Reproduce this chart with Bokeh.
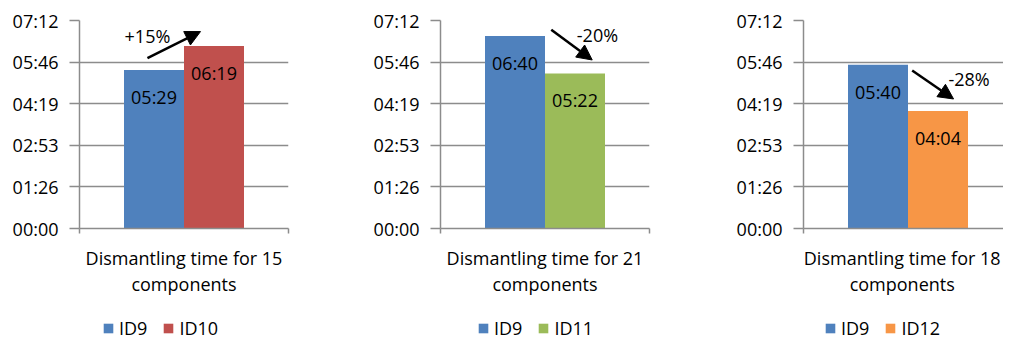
from bokeh.plotting import figure
from bokeh.models import (Range1d, FixedTicker, LinearAxis, Legend, LegendItem,
                          Arrow, NormalHead, Label, ColumnDataSource)
from bokeh.layouts import row, column
from bokeh.core.properties import value
from bokeh.embed import file_html
from bokeh.resources import INLINE

# ---------------- data ----------------
categories = ["Dismantling time for 15\ncomponents",
              "Dismantling time for 21\ncomponents",
              "Dismantling time for 18\ncomponents"]
series_a_names = ["ID9", "ID9", "ID9"]
series_b_names = ["ID10", "ID11", "ID12"]
series_a_seconds = [329, 400, 340]   # 05:29, 06:40, 05:40
series_b_seconds = [379, 322, 244]   # 06:19, 05:22, 04:04
change_labels = ["+15%", "-20%", "-28%"]
y_tick_values = [0, 86.4, 172.8, 259.2, 345.6, 432]
y_tick_labels = ["00:00", "01:26", "02:53", "04:19", "05:46", "07:12"]

# annotation placement (x in category units, y in seconds)
arrow_from = [(-0.175, 354), (0.03, 413), (0.02, 328)]
arrow_to = [(0.079, 409), (0.226, 350), (0.218, 269)]
change_label_pos = [(-0.175, 399), (0.251, 401), (0.292, 310)]

# ---------------- style ----------------
COLOR_A = "#4F81BD"
COLORS_B = ["#C0504D", "#9BBB59", "#F79646"]
GRAY = "#8C8C8C"
FONT = "Open Sans"
FS = "18px"
BAR_W = 60 / 209
frame_widths = [209, 209, 200]
left_borders = [79, 71, 71]
right_borders = [81, 83, 0]
legend_left = [23, 37, 21]


def mmss(s):
    return f"{int(s) // 60:02d}:{int(s) % 60:02d}"


figs = []
legend_figs = []
for i in range(3):
    fw = frame_widths[i]
    p = figure(frame_width=fw, frame_height=208,
               min_border_left=left_borders[i], min_border_right=right_borders[i],
               min_border_top=20, min_border_bottom=75,
               x_range=Range1d(-0.5, -0.5 + fw / 209), y_range=Range1d(0, 432),
               x_axis_type=None, output_backend="svg", toolbar_location=None,
               background_fill_color="white", border_fill_color="white")
    p.outline_line_color = None
    p.xgrid.visible = False

    # y axis
    yax = p.yaxis[0]
    yax.ticker = FixedTicker(ticks=y_tick_values)
    yax.major_label_overrides = {v: l for v, l in zip(y_tick_values, y_tick_labels)}
    yax.axis_line_color = GRAY
    yax.axis_line_width = 1.5
    yax.major_tick_line_color = GRAY
    yax.major_tick_line_width = 1.5
    yax.major_tick_out = 10
    yax.major_tick_in = 0
    yax.minor_tick_line_color = None
    yax.major_label_standoff = 11
    yax.major_label_text_font = FONT
    yax.major_label_text_font_size = FS
    yax.major_label_text_color = "black"
    p.ygrid.grid_line_color = GRAY
    p.ygrid.grid_line_width = 1.5

    # x axes: one for boundary ticks, one for category label
    tick_axis = LinearAxis(ticker=FixedTicker(ticks=[-0.5, 0.5]),
                           major_label_overrides={-0.5: "", 0.5: ""},
                           major_label_text_font_size="1px",
                           major_label_standoff=0,
                           major_tick_out=5, major_tick_in=0,
                           major_tick_line_color=GRAY, major_tick_line_width=1.5,
                           minor_tick_line_color=None,
                           axis_line_color=GRAY, axis_line_width=1.5)
    p.add_layout(tick_axis, "below")
    label_axis = LinearAxis(ticker=FixedTicker(ticks=[0]),
                            major_label_overrides={0: categories[i]},
                            major_label_standoff=6,
                            major_tick_line_color=None, minor_tick_line_color=None,
                            axis_line_color=None,
                            major_label_text_font=FONT, major_label_text_font_size=FS,
                            major_label_text_color="black",
                            major_label_text_line_height=1.1)
    p.add_layout(label_axis, "below")

    src = ColumnDataSource(dict(
        xa=[-BAR_W / 2], xb=[BAR_W / 2],
        a=[series_a_seconds[i]], b=[series_b_seconds[i]],
        la=[mmss(series_a_seconds[i])], lb=[mmss(series_b_seconds[i])]))
    p.vbar(x="xa", top="a", width=BAR_W, source=src,
           fill_color=COLOR_A, line_color=None)
    p.vbar(x="xb", top="b", width=BAR_W, source=src,
           fill_color=COLORS_B[i], line_color=None)
    for xcol, ycol, tcol in (("xa", "a", "la"), ("xb", "b", "lb")):
        p.text(x=xcol, y=ycol, text=tcol, source=src, y_offset=27,
               text_align="center", text_baseline="middle",
               text_font=value(FONT), text_font_size=FS, text_color="black")

    p.add_layout(Arrow(end=NormalHead(size=15, fill_color="black", line_color="black"),
                       x_start=arrow_from[i][0], y_start=arrow_from[i][1],
                       x_end=arrow_to[i][0], y_end=arrow_to[i][1],
                       line_width=2.5, line_color="black"))
    p.add_layout(Label(x=change_label_pos[i][0], y=change_label_pos[i][1],
                       text=change_labels[i], text_align="center",
                       text_baseline="middle", text_font=FONT,
                       text_font_size=FS, text_color="black"))
    figs.append(p)

    # legend strip below each panel (zero-height swatch renderers for the legend)
    lp = figure(frame_width=fw, frame_height=37,
                min_border_left=left_borders[i], min_border_right=right_borders[i],
                min_border_top=0, min_border_bottom=0,
                x_range=Range1d(0, 1), y_range=Range1d(0, 1),
                x_axis_type=None, y_axis_type=None,
                output_backend="svg", toolbar_location=None,
                background_fill_color="white", border_fill_color="white")
    lp.outline_line_color = None
    leg_src = ColumnDataSource(dict(x=[0.5], top=[0.0]))
    la_r = lp.vbar(x="x", top="top", width=0.1, source=leg_src,
                   fill_color=COLOR_A, line_color=None)
    lb_r = lp.vbar(x="x", top="top", width=0.1, source=leg_src,
                   fill_color=COLORS_B[i], line_color=None)
    legend = Legend(items=[LegendItem(label=series_a_names[i], renderers=[la_r]),
                           LegendItem(label=series_b_names[i], renderers=[lb_r])],
                    orientation="horizontal", location=(legend_left[i], 0),
                    glyph_width=12, glyph_height=12, label_standoff=5, spacing=15,
                    padding=0, margin=0, border_line_color=None,
                    background_fill_alpha=0, label_text_font=FONT,
                    label_text_font_size=FS, label_text_color="black")
    lp.add_layout(legend, "center")
    legend_figs.append(lp)

layout = column(row(*figs, spacing=0), row(*legend_figs, spacing=0), spacing=0)
open("out.html", "w").write(file_html(layout, INLINE))
